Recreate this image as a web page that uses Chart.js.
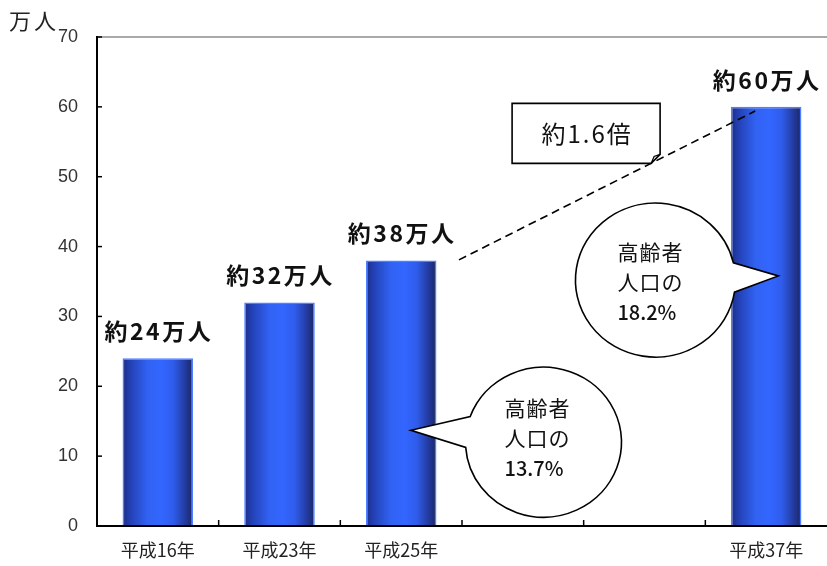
<!DOCTYPE html>
<html><head><meta charset="utf-8">
<script src="https://cdn.jsdelivr.net/npm/chart.js@4.4.1/dist/chart.umd.min.js"></script>
<style>html,body{margin:0;padding:0;background:#fff;}#wrap{width:827px;height:566px;position:relative;}</style>
</head><body><div id="wrap"><canvas id="c"></canvas></div>
<script>
// ---- data ----
const categories = ['平成16年', '平成23年', '平成25年', '', '', '平成37年'];
const values = [24, 32, 38, null, null, 60];
const barLabels = ['約24万人', '約32万人', '約38万人', '', '', '約60万人'];
const yMin = 0, yMax = 70, yStep = 10;
const unitLabel = '万人';
const ratioText = '約1.6倍';
const bubble1Text = ['高齢者', '人口の', '13.7%'];
const bubble2Text = ['高齢者', '人口の', '18.2%'];

// ---- annotation geometry (index/value anchors, px sizes) ----
const ratioLine = {from: [2.475, 38.1], to: [4.91, 59.4]};
const ratioBox = {center: [3.52, 56.2], w: 148, h: 60};
const bubbles = [
  {text: bubble1Text, c: [3.17, 12.0], rx: 78, ry: 75, tip: [2.08, 13.7], a0: 200, a1: 176, tx: -39, ty: -34},
  {text: bubble2Text, c: [4.09, 35.2], rx: 80, ry: 77, tip: [5.10, 35.8], a0: 9, a1: 347, tx: -38, ty: -28}
];

const JP = '"Noto Sans CJK JP", "Noto Sans", sans-serif';

function P(chart, i, v) {
  return [chart.scales.x.getPixelForValue(i), chart.scales.y.getPixelForValue(v)];
}

function barGradient(context) {
  const chart = context.chart;
  const xs = chart.scales.x;
  if (!xs || !chart.chartArea) return '#3366ff';
  const cx = xs.getPixelForValue(context.dataIndex);
  const w = (xs.width / categories.length) * 0.58;
  const g = chart.ctx.createLinearGradient(cx - w / 2, 0, cx + w / 2, 0);
  g.addColorStop(0, '#1b2d86');
  g.addColorStop(0.12, '#2442b8');
  g.addColorStop(0.35, '#3162f2');
  g.addColorStop(0.55, '#3366ff');
  g.addColorStop(0.72, '#2f5ceb');
  g.addColorStop(0.9, '#22389a');
  g.addColorStop(1, '#1a275f');
  return g;
}

const axesPlugin = {
  id: 'axesPlugin',
  afterDatasetsDraw(chart) {
    const ctx = chart.ctx, a = chart.chartArea;
    const xs = chart.scales.x, ys = chart.scales.y;
    ctx.save();
    // top border
    ctx.strokeStyle = '#8c8c8c'; ctx.lineWidth = 1.5;
    ctx.beginPath(); ctx.moveTo(a.left, a.top); ctx.lineTo(a.right, a.top); ctx.stroke();
    ctx.strokeStyle = '#000'; ctx.lineWidth = 2;
    ctx.beginPath(); ctx.moveTo(a.left, a.top - 1); ctx.lineTo(a.left, a.bottom + 1); ctx.stroke();
    ctx.beginPath(); ctx.moveTo(a.left - 1, a.bottom); ctx.lineTo(a.right, a.bottom); ctx.stroke();
    ctx.lineWidth = 1.5;
    for (let v = yMin; v <= yMax; v += yStep) {
      const y = ys.getPixelForValue(v);
      ctx.beginPath(); ctx.moveTo(a.left, y); ctx.lineTo(a.left + 5, y); ctx.stroke();
    }
    for (let i = 1; i < categories.length; i++) {
      const x = xs.getPixelForValue(i - 0.5);
      ctx.beginPath(); ctx.moveTo(x, a.bottom); ctx.lineTo(x, a.bottom - 6); ctx.stroke();
    }
    // bar labels
    const meta = chart.getDatasetMeta(0);
    ctx.fillStyle = '#111';
    ctx.font = '700 23px ' + JP;
    ctx.letterSpacing = '2.5px';
    ctx.textAlign = 'center'; ctx.textBaseline = 'middle';
    values.forEach((v, i) => {
      if (v == null || !barLabels[i]) return;
      const el = meta.data[i];
      ctx.fillText(barLabels[i], el.x + 1, el.y - 27);
    });
    // unit label
    ctx.font = '400 22px ' + JP;
    ctx.letterSpacing = '3px';
    ctx.textAlign = 'left';
    ctx.fillStyle = '#222';
    ctx.fillText(unitLabel, 9, 21);
    ctx.letterSpacing = '0px';

    // dashed ratio line
    const p0 = P(chart, ...ratioLine.from), p1 = P(chart, ...ratioLine.to);
    ctx.strokeStyle = '#000'; ctx.lineWidth = 1.6; ctx.setLineDash([8, 5]);
    ctx.beginPath(); ctx.moveTo(p0[0], p0[1]); ctx.lineTo(p1[0], p1[1]); ctx.stroke();
    ctx.setLineDash([]);

    // ratio box with folded corner
    const bc = P(chart, ...ratioBox.center);
    const L = bc[0] - ratioBox.w / 2, R = bc[0] + ratioBox.w / 2, T = bc[1] - ratioBox.h / 2, B = bc[1] + ratioBox.h / 2, f = 9;
    ctx.fillStyle = '#fff'; ctx.lineWidth = 1.6;
    ctx.beginPath(); ctx.moveTo(L, T); ctx.lineTo(R, T); ctx.lineTo(R, B - f); ctx.lineTo(R - f, B); ctx.lineTo(L, B); ctx.closePath();
    ctx.fill(); ctx.stroke();
    ctx.lineWidth = 1.2;
    ctx.beginPath(); ctx.moveTo(R, B - f); ctx.lineTo(R - f + 3, B - f + 2); ctx.lineTo(R - f, B); ctx.stroke();
    ctx.fillStyle = '#111';
    ctx.font = '400 24px ' + JP; ctx.letterSpacing = '2px';
    ctx.textAlign = 'center'; ctx.textBaseline = 'middle';
    ctx.fillText(ratioText, bc[0] + 1, bc[1]);
    ctx.letterSpacing = '0px';

    // speech bubbles
    bubbles.forEach(b => {
      const c = P(chart, ...b.c), t = P(chart, ...b.tip);
      const d = Math.PI / 180;
      let a0 = b.a0 * d, a1 = b.a1 * d;
      if (a1 <= a0) a1 += Math.PI * 2;
      ctx.beginPath();
      ctx.ellipse(c[0], c[1], b.rx, b.ry, 0, a0, a1, false);
      ctx.lineTo(t[0], t[1]);
      ctx.closePath();
      ctx.fillStyle = '#fff'; ctx.fill();
      ctx.strokeStyle = '#000'; ctx.lineWidth = 1.6; ctx.stroke();
      ctx.fillStyle = '#111';
      ctx.textAlign = 'left'; ctx.textBaseline = 'middle';
      b.text.forEach((line, k) => {
        ctx.font = (k < 2 ? '400 21px ' : '500 20px ') + JP;
        ctx.letterSpacing = k < 2 ? '1px' : '0px';
        ctx.fillText(line, c[0] + b.tx, c[1] + b.ty + k * 30);
      });
      ctx.letterSpacing = '0px';
    });
    ctx.restore();
  }
};

new Chart(document.getElementById('c'), {
  type: 'bar',
  data: {
    labels: categories,
    datasets: [{
      data: values,
      backgroundColor: barGradient,
      borderColor: '#4f80ff',
      borderWidth: {top: 1.5, left: 1.5, right: 1.5, bottom: 0},
      borderSkipped: false,
      categoryPercentage: 1,
      barPercentage: 0.58
    }]
  },
  options: {
    responsive: true,
    maintainAspectRatio: false,
    animation: false,
    devicePixelRatio: 1,
    layout: {padding: {top: 37, left: 0, right: 0, bottom: 0}},
    plugins: {legend: {display: false}, tooltip: {enabled: false}},
    scales: {
      x: {
        grid: {display: false, drawTicks: false},
        border: {display: false},
        ticks: {font: {family: JP, size: 18}, color: '#222', padding: 13, maxRotation: 0, autoSkip: false},
        afterFit(s) { s.height = 40; }
      },
      y: {
        min: yMin, max: yMax,
        grid: {display: false, drawTicks: false},
        border: {display: false},
        ticks: {stepSize: yStep, font: {family: '"Liberation Sans", Arial, sans-serif', size: 18}, color: '#333', padding: 19},
        afterFit(s) { s.width = 97; }
      }
    }
  },
  plugins: [axesPlugin]
});
</script>
</body></html>
